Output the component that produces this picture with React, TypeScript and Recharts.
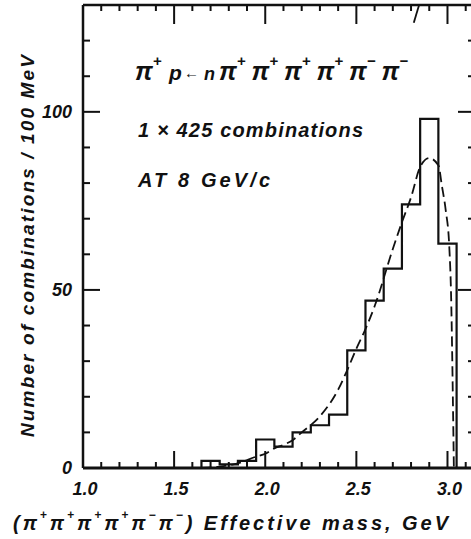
import { ComposedChart, Line, XAxis, YAxis } from "recharts";

// histogram: 100 MeV bins, lower edges and counts
const binStarts = [1.65, 1.75, 1.85, 1.95, 2.05, 2.15, 2.25, 2.35, 2.45, 2.55, 2.65, 2.75, 2.85, 2.95];
const binCounts = [2, 1, 2, 8, 6, 10, 12, 15, 33, 47, 56, 74, 98, 63];
const binWidth = 0.1;

// dashed phase-space curve
const curveMass = [1.65, 1.75, 1.85, 1.95, 2.0, 2.05, 2.1, 2.15, 2.2, 2.3, 2.4, 2.45, 2.5, 2.55, 2.6, 2.7, 2.75, 2.8, 2.85, 2.9, 2.95, 2.97, 2.99, 3.01, 3.02, 3.03, 3.035];
const curveValue = [0, 0.4, 1.3, 3.2, 4, 5.5, 6.5, 7.8, 10, 14.5, 22, 27.5, 33.5, 39, 45.4, 61.5, 69, 76, 84.5, 87, 85, 79, 72.5, 62, 48, 18, 0];

// second dashed curve, only its tail shows at the top edge
const upperMass = [2.815, 2.85];
const upperValue = [125, 131];

const xTicks = [1.0, 1.1, 1.2, 1.3, 1.4, 1.5, 1.6, 1.7, 1.8, 1.9, 2.0, 2.1, 2.2, 2.3, 2.4, 2.5, 2.6, 2.7, 2.8, 2.9, 3.0, 3.1];
const yTicks = [0, 10, 20, 30, 40, 50, 60, 70, 80, 90, 100, 110, 120];

const ink = "#111";
const font = "'Liberation Sans', Arial, sans-serif";

const histData: { m: number; n: number }[] = [{ m: binStarts[0], n: 0 }];
binStarts.forEach((s, i) => {
  histData.push({ m: s, n: binCounts[i] });
  histData.push({ m: s + binWidth, n: binCounts[i] });
});
histData.push({ m: binStarts[binStarts.length - 1] + binWidth, n: 0 });

const curveData = curveMass.map((m, i) => ({ m, n: curveValue[i] }));
const upperData = upperMass.map((m, i) => ({ m, n: upperValue[i] }));

const isMajorX = (v: number) => Math.abs(v * 2 - Math.round(v * 2)) < 1e-6;
const isMajorY = (v: number) => v % 50 === 0;

const labelStyle = {
  fontFamily: font,
  fontStyle: "italic" as const,
  fontWeight: 700,
  fill: ink,
};

function BottomTick(props: any) {
  const { x, y, payload } = props;
  const major = isMajorX(payload.value);
  return (
    <g>
      <line x1={x} x2={x} y1={y} y2={y - (major ? 17 : 6)} stroke={ink} strokeWidth={2} />
      {major && (
        <text x={x + 2} y={y + 27} textAnchor="middle" fontSize={18} style={labelStyle}>
          {payload.value.toFixed(1)}
        </text>
      )}
    </g>
  );
}

function TopTick(props: any) {
  const { x, y, payload } = props;
  const major = isMajorX(payload.value);
  return <line x1={x} x2={x} y1={y} y2={y + (major ? 19 : 6)} stroke={ink} strokeWidth={2} />;
}

function LeftTick(props: any) {
  const { x, y, payload } = props;
  const major = isMajorY(payload.value);
  return (
    <g>
      <line x1={x} x2={x + (major ? 17 : 7)} y1={y} y2={y} stroke={ink} strokeWidth={2} />
      {major && (
        <text x={x - 11} y={y + 6} textAnchor="end" fontSize={18} style={labelStyle}>
          {payload.value}
        </text>
      )}
    </g>
  );
}

function RightTick(props: any) {
  const { x, y, payload } = props;
  const major = isMajorY(payload.value);
  return <line x1={x} x2={x - (major ? 15 : 5)} y1={y} y2={y} stroke={ink} strokeWidth={2} />;
}

function Pi({ x, y, size, charge }: { x: number; y: number; size: number; charge: string }) {
  return (
    <text x={x} y={y} fontSize={size} style={labelStyle}>
      π
      <tspan dy={-size * 0.55} fontSize={size * 0.6}>
        {charge}
      </tspan>
    </text>
  );
}

const reactionCharges = ["+", "+", "+", "+", "−", "−"];

export default function App() {
  return (
    <div style={{ position: "absolute", left: 0, top: 0, width: 471, height: 539, overflow: "hidden", background: "#fff" }}>
      <ComposedChart width={480} height={539} margin={{ top: 4, right: 6, bottom: 70, left: 82 }}>
        <XAxis
          dataKey="m"
          type="number"
          domain={[1.0, 3.14]}
          allowDataOverflow
          ticks={xTicks}
          interval={0}
          height={1}
          tickSize={0}
          tickMargin={0}
          tick={<BottomTick />}
          axisLine={{ stroke: ink, strokeWidth: 3 }}
        />
        <XAxis
          xAxisId="top"
          orientation="top"
          dataKey="m"
          type="number"
          domain={[1.0, 3.14]}
          allowDataOverflow
          ticks={xTicks}
          interval={0}
          height={1}
          tickSize={0}
          tickMargin={0}
          tick={<TopTick />}
          axisLine={{ stroke: ink, strokeWidth: 2.5 }}
        />
        <YAxis
          type="number"
          domain={[0, 130]}
          allowDataOverflow
          ticks={yTicks}
          interval={0}
          width={1}
          tickSize={0}
          tickMargin={0}
          tick={<LeftTick />}
          axisLine={{ stroke: ink, strokeWidth: 2.5 }}
        />
        <YAxis
          yAxisId="right"
          orientation="right"
          type="number"
          domain={[0, 130]}
          allowDataOverflow
          ticks={yTicks}
          interval={0}
          width={1}
          tickSize={0}
          tickMargin={0}
          tick={<RightTick />}
          axisLine={false}
        />
        <Line
          data={curveData}
          dataKey="n"
          type="monotone"
          stroke={ink}
          strokeWidth={1.8}
          strokeDasharray="10 5"
          dot={false}
          isAnimationActive={false}
        />
        <Line
          data={upperData}
          dataKey="n"
          type="linear"
          stroke={ink}
          strokeWidth={1.8}
          dot={false}
          isAnimationActive={false}
        />
        <Line
          data={histData}
          dataKey="n"
          type="linear"
          stroke={ink}
          strokeWidth={2.2}
          dot={false}
          isAnimationActive={false}
        />

        {/* reaction annotation */}
        <Pi x={135} y={80} size={25} charge="+" />
        <text x={169} y={80} fontSize={21} style={labelStyle}>p</text>
        <text x={184} y={78} fontSize={15} style={labelStyle}>←</text>
        <text x={204} y={80} fontSize={18} style={labelStyle}>n</text>
        {reactionCharges.map((c, i) => (
          <Pi key={i} x={219 + i * 32.5} y={80} size={25} charge={c} />
        ))}
        <text x={138} y={137} fontSize={20} textLength={225} lengthAdjust="spacing" style={labelStyle}>
          1 × 425  combinations
        </text>
        <text x={138} y={187} fontSize={20} textLength={132} lengthAdjust="spacing" style={labelStyle}>
          AT 8 GeV/c
        </text>

        {/* axis titles */}
        <text
          transform="translate(34, 246) rotate(-90)"
          textAnchor="middle"
          fontSize={19}
          textLength={382}
          lengthAdjust="spacing"
          style={labelStyle}
        >
          Number of combinations / 100 MeV
        </text>
        <text x={13} y={530} fontSize={20} textLength={435} lengthAdjust="spacing" style={labelStyle}>
          (π<tspan dy={-11} fontSize={12}>+</tspan>
          <tspan dy={11}>π</tspan><tspan dy={-11} fontSize={12}>+</tspan>
          <tspan dy={11}>π</tspan><tspan dy={-11} fontSize={12}>+</tspan>
          <tspan dy={11}>π</tspan><tspan dy={-11} fontSize={12}>+</tspan>
          <tspan dy={11}>π</tspan><tspan dy={-11} fontSize={12}>−</tspan>
          <tspan dy={11}>π</tspan><tspan dy={-11} fontSize={12}>−</tspan>
          <tspan dy={11}>)  Effective  mass, GeV</tspan>
        </text>
      </ComposedChart>
    </div>
  );
}
